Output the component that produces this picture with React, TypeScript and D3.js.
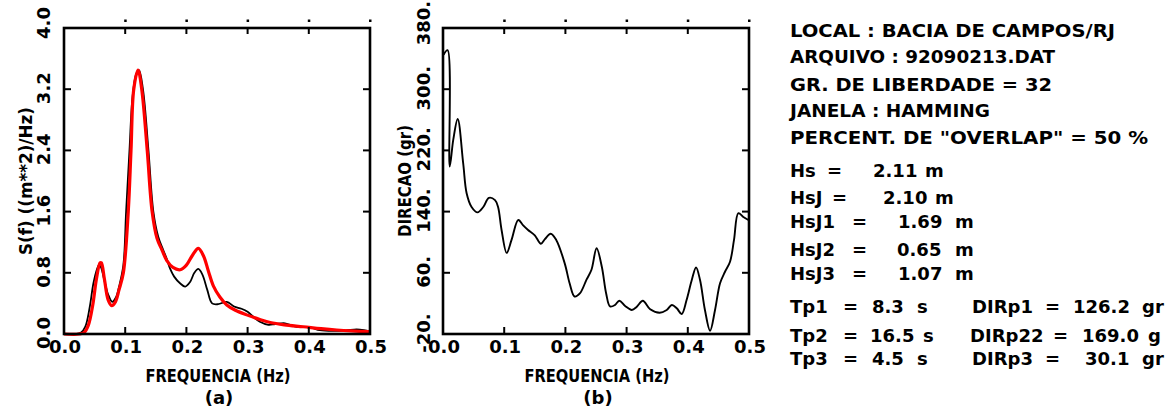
import React from "react";
import * as d3 from "d3";

// ---------- data ----------
const freqTicks = [0, 0.1, 0.2, 0.3, 0.4, 0.5];
const freqTickLabels = ["0.0", "0.1", "0.2", "0.3", "0.4", "0.5"];
const specTicks = [0, 0.8, 1.6, 2.4, 3.2, 4.0];
const specTickLabels = ["0.0", "0.8", "1.6", "2.4", "3.2", "4.0"];
const dirTicks = [-20, 60, 140, 220, 300, 380];
const dirTickLabels = ["-20.", "60.", "140.", "220.", "300.", "380."];

const specFreqBlack = [0, 0.02, 0.028, 0.035, 0.042, 0.048, 0.054, 0.057, 0.06, 0.066, 0.072, 0.079, 0.085, 0.09, 0.097, 0.1015, 0.107, 0.112, 0.118, 0.1225, 0.129, 0.138, 0.146, 0.154, 0.162, 0.168, 0.173, 0.18, 0.19, 0.198, 0.206, 0.213, 0.2195, 0.226, 0.234, 0.242, 0.252, 0.266, 0.278, 0.29, 0.3, 0.31, 0.32, 0.334, 0.345, 0.361, 0.372, 0.38, 0.397, 0.405, 0.418, 0.44, 0.46, 0.478, 0.49, 0.5];
const specBlack = [0, 0, 0.02, 0.1, 0.35, 0.66, 0.85, 0.9, 0.88, 0.7, 0.52, 0.42, 0.48, 0.62, 0.9, 1.6, 2.4, 3.1, 3.4, 3.45, 3.2, 2.4, 1.6, 1.27, 1.1, 0.98, 0.86, 0.75, 0.66, 0.62, 0.68, 0.8, 0.85, 0.78, 0.58, 0.4, 0.39, 0.42, 0.36, 0.33, 0.29, 0.22, 0.16, 0.12, 0.13, 0.14, 0.11, 0.095, 0.09, 0.08, 0.05, 0.04, 0.045, 0.06, 0.05, 0.03];

const specFreqRed = [0, 0.025, 0.033, 0.04, 0.047, 0.053, 0.059, 0.061, 0.066, 0.072, 0.078, 0.084, 0.09, 0.097, 0.105, 0.1095, 0.114, 0.121, 0.127, 0.136, 0.144, 0.152, 0.16, 0.168, 0.178, 0.19, 0.2, 0.21, 0.2195, 0.228, 0.236, 0.244, 0.255, 0.266, 0.28, 0.2985, 0.32, 0.337, 0.36, 0.391, 0.42, 0.4456, 0.47, 0.5];
const specRed = [0, 0, 0.02, 0.12, 0.38, 0.72, 0.93, 0.93, 0.72, 0.45, 0.37, 0.42, 0.58, 0.8, 1.6, 2.4, 3.2, 3.45, 3.2, 2.4, 1.6, 1.25, 1.1, 0.96, 0.87, 0.84, 0.9, 1.03, 1.12, 1.02, 0.82, 0.63, 0.48, 0.38, 0.31, 0.25, 0.19, 0.15, 0.12, 0.095, 0.07, 0.052, 0.04, 0.03];

const dirFreq = [0.001, 0.0075, 0.011, 0.0168, 0.024, 0.033, 0.0386, 0.0467, 0.0565, 0.0658, 0.075, 0.085, 0.09, 0.0957, 0.104, 0.112, 0.123, 0.131, 0.139, 0.15, 0.16, 0.1665, 0.176, 0.185, 0.199, 0.207, 0.215, 0.2236, 0.2345, 0.2426, 0.251, 0.2595, 0.2666, 0.273, 0.2812, 0.288, 0.2976, 0.3085, 0.3167, 0.3265, 0.3385, 0.354, 0.3656, 0.374, 0.382, 0.39, 0.398, 0.4065, 0.4135, 0.42, 0.428, 0.4364, 0.4445, 0.4527, 0.4608, 0.469, 0.4755, 0.4826, 0.4907, 0.499];
const dirValues = [345, 351, 199, 234, 261, 203, 164, 146, 139, 146, 158, 155, 146, 116, 86, 103, 129, 122, 116, 109, 98, 104, 111, 103, 72, 46, 29, 33, 51, 64, 92, 68, 33, 16, 18, 23.5, 16.6, 11.4, 15.7, 23.5, 12.3, 7.8, 11.4, 17.9, 13.6, 6.1, 24.4, 50.6, 67, 50.6, 11.4, -15.7, 11.4, 46.3, 61.4, 74.5, 103, 138, 133, 129];

const headerLines = ["LOCAL : BACIA DE CAMPOS/RJ", "ARQUIVO : 92090213.DAT", "GR. DE LIBERDADE = 32", "JANELA : HAMMING", 'PERCENT. DE "OVERLAP" = 50 %'];
const hsLabels = ["Hs", "HsJ", "HsJ1", "HsJ2", "HsJ3"];
const hsValues = ["2.11", "2.10", "1.69", "0.65", "1.07"];
const tpLabels = ["Tp1", "Tp2", "Tp3"];
const tpValues = ["8.3", "16.5", "4.5"];
const dirpLabels = ["DIRp1", "DIRp22", "DIRp3"];
const dirpValues = ["126.2", "169.0", "30.1"];
const dirpUnits = ["gr", "g", "gr"];

// ---------- layout ----------
const FONT = "'DejaVu Sans', sans-serif";
const headerY = [37.3, 62.7, 90.7, 117, 144];
const headerW = [325, 265, 262, 200, 358];
const hsY = [176.7, 204, 227.5, 256, 279.5];
const hsX = [[790, 827, 873, 925], [790, 832, 883, 935], [790, 852, 898, 955], [790, 852, 897, 955], [790, 852, 898, 955]];
const tpY = [313.3, 341.7, 365];
const tpX = [
  [790, 843, 872, 917, 972, 1045, 1073, 1142],
  [790, 843, 870, 923, 970, 1053, 1082, 1148],
  [790, 843, 872, 917, 972, 1045, 1085, 1142],
];

function Frame(props: any) {
  const { x, y, yTicks, yLabels, yTitle, yTitleLen, yTitleX, yLabelX, tag } = props;
  const [l, r] = x.range();
  const [b, t] = y.range();
  const cx = (l + r) / 2;
  return (
    <g>
      {freqTicks.map((v, i) => (
        <g key={"x" + i}>
          <line x1={x(v)} x2={x(v)} y1={b} y2={b - 7} stroke="#000" strokeWidth={2} />
          <line x1={x(v)} x2={x(v)} y1={t} y2={t + 6} stroke="#000" strokeWidth={2} />
          {v > 0 && <rect x={x(v) - 1} y={19.5} width={2.5} height={2.5} fill="#000" />}
          <text x={x(v) + 1} y={353} textAnchor="middle" fontSize={18}>{freqTickLabels[i]}</text>
        </g>
      ))}
      {yTicks.map((v: number, i: number) => (
        <g key={"y" + i}>
          <line x1={l} x2={l + 7} y1={y(v)} y2={y(v)} stroke="#000" strokeWidth={2} />
          <line x1={r} x2={r - 7} y1={y(v)} y2={y(v)} stroke="#000" strokeWidth={2} />
          <text transform={`translate(${yLabelX},${y(v) - (i === yTicks.length - 1 ? 5 : 1)}) rotate(-90)`} textAnchor="middle" fontSize={18}>{yLabels[i]}</text>
        </g>
      ))}
      <rect x={l} y={t} width={r - l} height={b - t} fill="none" stroke="#000" strokeWidth={2.6} />
      <text transform={`translate(${yTitleX},${(t + b) / 2}) rotate(-90)`} textAnchor="middle" fontSize={18} textLength={yTitleLen} lengthAdjust="spacingAndGlyphs">{yTitle}</text>
      <text x={cx + 1} y={381.5} textAnchor="middle" fontSize={18} textLength={145} lengthAdjust="spacingAndGlyphs">FREQUENCIA  (Hz)</text>
      <text x={cx + 2} y={404} textAnchor="middle" fontSize={18}>{tag}</text>
    </g>
  );
}

export default function App() {
  const xA = d3.scaleLinear().domain([0, 0.5]).range([64, 370]);
  const yA = d3.scaleLinear().domain([0, 4]).range([334, 28]);
  const xB = d3.scaleLinear().domain([0, 0.5]).range([443, 749]);
  const yB = d3.scaleLinear().domain([-20, 380]).range([334, 28]);

  const lineA = d3.line<[number, number]>().x((d) => xA(d[0])).y((d) => yA(d[1])).curve(d3.curveCatmullRom.alpha(0.5));
  const lineB = d3.line<[number, number]>().x((d) => xB(d[0])).y((d) => yB(d[1])).curve(d3.curveCatmullRom.alpha(0.5));

  const black = specFreqBlack.map((f, i) => [f, specBlack[i]] as [number, number]);
  const red = specFreqRed.map((f, i) => [f, specRed[i]] as [number, number]);
  const dir = dirFreq.map((f, i) => [f, dirValues[i]] as [number, number]);

  return (
    <svg width={1174} height={413} style={{ position: "absolute", left: 0, top: 0, background: "#fff" }} fontFamily={FONT} fontWeight="bold">
      <rect x={0} y={0} width={1174} height={413} fill="#fff" />
      <path d={lineA(black) || ""} fill="none" stroke="#000" strokeWidth={1.8} />
      <path d={lineA(red) || ""} fill="none" stroke="#ff0000" strokeWidth={3.2} />
      <Frame x={xA} y={yA} yTicks={specTicks} yLabels={specTickLabels} yTitle="S(f)  ((m**2)/Hz)" yTitleLen={148} yTitleX={31.5} yLabelX={50} tag="(a)" />

      <path d={lineB(dir) || ""} fill="none" stroke="#000" strokeWidth={1.9} />
      <Frame x={xB} y={yB} yTicks={dirTicks} yLabels={dirTickLabels} yTitle="DIRECAO  (gr)" yTitleLen={112} yTitleX={410.5} yLabelX={430} tag="(b)" />

      {headerLines.map((s, i) => (
        <text key={"h" + i} x={790} y={headerY[i]} fontSize={18} textLength={headerW[i]} lengthAdjust="spacingAndGlyphs" xmlSpace="preserve">{s}</text>
      ))}
      {hsLabels.map((s, i) => (
        <g key={"hs" + i} fontSize={18}>
          <text x={hsX[i][0]} y={hsY[i]}>{s}</text>
          <text x={hsX[i][1]} y={hsY[i]}>=</text>
          <text x={hsX[i][2]} y={hsY[i]}>{hsValues[i]}</text>
          <text x={hsX[i][3]} y={hsY[i]}>m</text>
        </g>
      ))}
      {tpLabels.map((s, i) => (
        <g key={"tp" + i} fontSize={18}>
          <text x={tpX[i][0]} y={tpY[i]}>{s}</text>
          <text x={tpX[i][1]} y={tpY[i]}>=</text>
          <text x={tpX[i][2]} y={tpY[i]}>{tpValues[i]}</text>
          <text x={tpX[i][3]} y={tpY[i]}>s</text>
          <text x={tpX[i][4]} y={tpY[i]}>{dirpLabels[i]}</text>
          <text x={tpX[i][5]} y={tpY[i]}>=</text>
          <text x={tpX[i][6]} y={tpY[i]}>{dirpValues[i]}</text>
          <text x={tpX[i][7]} y={tpY[i]}>{dirpUnits[i]}</text>
        </g>
      ))}
    </svg>
  );
}
